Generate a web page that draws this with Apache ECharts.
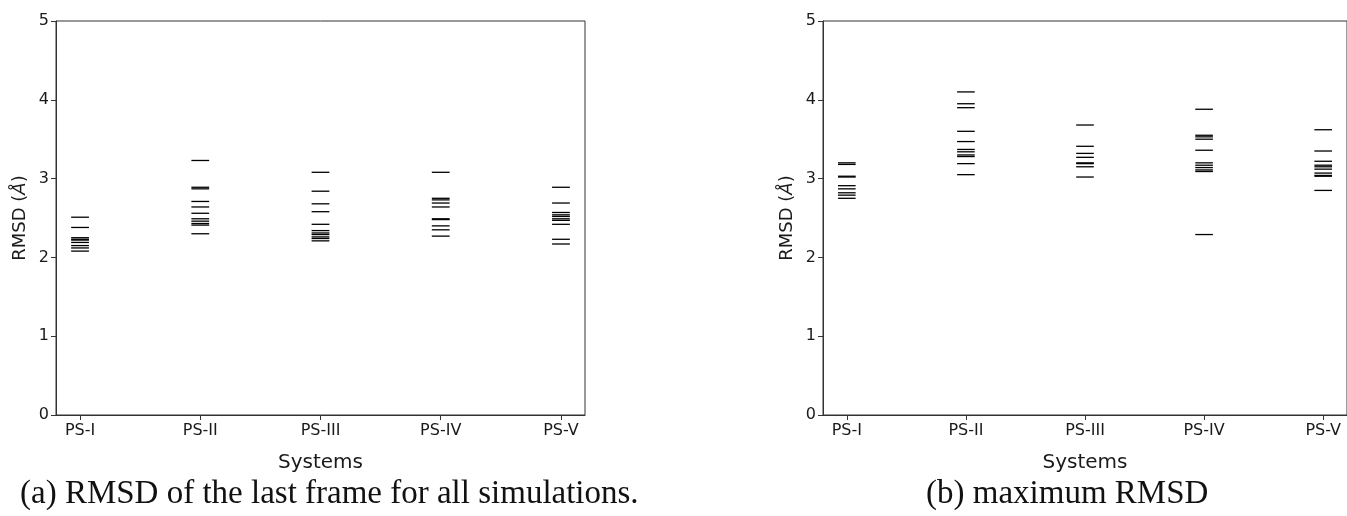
<!DOCTYPE html>
<html>
<head>
<meta charset="utf-8">
<script src="https://cdn.jsdelivr.net/npm/echarts@6/dist/echarts.min.js"></script>
<style>
html,body{margin:0;padding:0;background:#fff;}
#chart{width:1347px;height:516px;}
</style>
</head>
<body>
<div id="chart"></div>
<script>
// Categories
const systems = ['PS-I', 'PS-II', 'PS-III', 'PS-IV', 'PS-V'];
const yTicks = [0, 1, 2, 3, 4, 5];

// (a) RMSD of the last frame (Å), one list per system
const lastPS1 = [2.51, 2.38, 2.25, 2.23, 2.22, 2.19, 2.15, 2.12, 2.08];
const lastPS2 = [3.23, 2.89, 2.87, 2.71, 2.64, 2.56, 2.49, 2.46, 2.43, 2.41, 2.30];
const lastPS3 = [3.08, 2.84, 2.68, 2.58, 2.42, 2.34, 2.31, 2.29, 2.26, 2.24, 2.21];
const lastPS4 = [3.08, 2.75, 2.73, 2.69, 2.64, 2.49, 2.48, 2.40, 2.35, 2.27];
const lastPS5 = [2.89, 2.69, 2.57, 2.54, 2.52, 2.49, 2.47, 2.42, 2.23, 2.17];

// (b) maximum RMSD (Å)
const maxPS1 = [3.20, 3.18, 3.03, 3.02, 2.91, 2.87, 2.82, 2.79, 2.75];
const maxPS2 = [4.10, 3.95, 3.90, 3.60, 3.47, 3.37, 3.34, 3.30, 3.28, 3.19, 3.05];
const maxPS3 = [3.68, 3.41, 3.32, 3.27, 3.20, 3.19, 3.15, 3.02];
const maxPS4 = [3.88, 3.55, 3.53, 3.50, 3.36, 3.20, 3.17, 3.14, 3.11, 3.09, 2.29];
const maxPS5 = [3.62, 3.35, 3.22, 3.17, 3.15, 3.12, 3.07, 3.04, 3.03, 2.85];

const lastAll = [lastPS1, lastPS2, lastPS3, lastPS4, lastPS5];
const maxAll = [maxPS1, maxPS2, maxPS3, maxPS4, maxPS5];

function toPoints(groups) {
  const pts = [];
  groups.forEach((g, i) => g.forEach(v => pts.push([i, v])));
  return pts;
}

const HALF = 0.074; // half line length in x-axis units

function renderTick(params, api) {
  const x = api.value(0), y = api.value(1);
  const p1 = api.coord([x - HALF, y]);
  const p2 = api.coord([x + HALF, y]);
  return {
    type: 'line',
    shape: { x1: p1[0], y1: p1[1], x2: p2[0], y2: p2[1] },
    style: { stroke: '#000', lineWidth: 1.3 }
  };
}

const txt = '#1a1a1a';
const fontFam = '"DejaVu Sans", sans-serif';

function xAxisCfg(idx) {
  return {
    type: 'value', gridIndex: idx, min: -0.2, max: 4.2,
    name: 'Systems', nameLocation: 'middle', nameGap: 38,
    nameTextStyle: { fontFamily: fontFam, fontSize: 20, color: txt },
    splitLine: { show: false },
    axisLine: { show: true, onZero: false, lineStyle: { color: '#333', width: 1 } },
    axisTick: { show: true, inside: false, length: 5, customValues: [0, 1, 2, 3, 4], lineStyle: { color: '#333' } },
    axisLabel: {
      customValues: [0, 1, 2, 3, 4],
      formatter: v => systems[Math.round(v)] || '',
      fontFamily: fontFam, fontSize: 16, color: txt, margin: 8
    }
  };
}
function yAxisCfg(idx) {
  return {
    type: 'value', gridIndex: idx, min: 0, max: 5, interval: 1,
    name: 'RMSD ({i|Å})', nameLocation: 'middle', nameGap: 27,
    nameTextStyle: { fontFamily: fontFam, fontSize: 18, color: txt,
      rich: { i: { fontFamily: fontFam, fontSize: 18, fontStyle: 'italic', color: txt } } },
    splitLine: { show: false },
    axisLine: { show: true, onZero: false, lineStyle: { color: '#333', width: 1 } },
    axisTick: { show: true, inside: false, length: 5, lineStyle: { color: '#333' } },
    axisLabel: { fontFamily: fontFam, fontSize: 16, color: txt, margin: 7 }
  };
}

const chart = echarts.init(document.getElementById('chart'), null, { renderer: 'canvas' });
chart.setOption({
  backgroundColor: '#fff',
  animation: false,
  grid: [
    { left: 56, top: 21, width: 529, height: 394, show: true, borderColor: '#333', borderWidth: 1, containLabel: false },
    { left: 823, top: 21, width: 528, height: 394, show: true, borderColor: '#333', borderWidth: 1, containLabel: false }
  ],
  xAxis: [xAxisCfg(0), xAxisCfg(1)],
  yAxis: [yAxisCfg(0), yAxisCfg(1)],
  series: [
    { type: 'custom', xAxisIndex: 0, yAxisIndex: 0, renderItem: renderTick, data: toPoints(lastAll), clip: false },
    { type: 'custom', xAxisIndex: 1, yAxisIndex: 1, renderItem: renderTick, data: toPoints(maxAll), clip: false }
  ],
  graphic: [
    { type: 'text', left: 20, top: 478, style: { text: '(a) RMSD of the last frame for all simulations.', font: '33px "Liberation Serif", "Times New Roman", serif', fill: '#111' } },
    { type: 'text', left: 926, top: 478, style: { text: '(b) maximum RMSD', font: '33px "Liberation Serif", "Times New Roman", serif', fill: '#111' } }
  ]
});
</script>
</body>
</html>
